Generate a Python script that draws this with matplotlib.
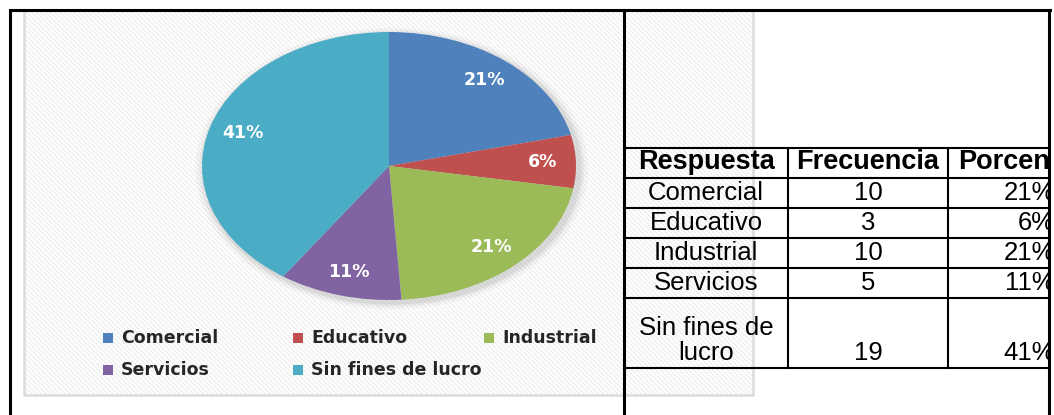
import numpy as np
import matplotlib.pyplot as plt
from matplotlib.patches import Rectangle, Ellipse

categorias = ['Comercial', 'Educativo', 'Industrial', 'Servicios', 'Sin fines de lucro']
frecuencia = [10, 3, 10, 5, 19]
porcentaje = ['21%', '6%', '21%', '11%', '41%']
colores = ['#4F81BD', '#C0504D', '#9BBB59', '#8064A2', '#4BACC6']
filas_tabla = ['Comercial', 'Educativo', 'Industrial', 'Servicios', 'Sin fines de\nlucro']
encabezados = ['Respuesta', 'Frecuencia', 'Porcentaje']

W, H = 1054, 415
plt.rcParams['hatch.linewidth'] = 0.8

fig = plt.figure(figsize=(W / 100, H / 100), dpi=100)
fig.patch.set_facecolor('white')

# base axes in pixel coordinates (y down)
ax = fig.add_axes([0, 0, 1, 1])
ax.set_xlim(0, W)
ax.set_ylim(H, 0)
ax.axis('off')

# hatched chart panel
ax.add_patch(Rectangle((24, 10), 729, 385, facecolor='white',
                       edgecolor='#ececec', hatch='\\' * 7, lw=0, zorder=0))
ax.add_patch(Rectangle((24, 10), 729, 385, facecolor='none',
                       edgecolor='#dcdcdc', lw=1.8, zorder=1))

# pie (elliptical)
cx, cy, rx, ry = 389, 166, 187, 134
axp = fig.add_axes([(cx - rx) / W, (H - cy - ry) / H, 2 * rx / W, 2 * ry / H])
for k, a in [(1.05, 0.08), (1.03, 0.12), (1.015, 0.18)]:
    axp.add_patch(Ellipse((0.015, -0.02), 2 * k, 2 * k, color='#9a9a9a', alpha=a,
                          lw=0, clip_on=False))
wedges, _ = axp.pie(frecuencia, colors=colores, startangle=90, counterclock=False,
                    radius=1, wedgeprops=dict(linewidth=0))
for w in wedges:
    w.set_clip_on(False)
axp.set_aspect('auto')
axp.set_xlim(-1, 1)
axp.set_ylim(-1, 1)
axp.axis('off')
for w, lab in zip(wedges, porcentaje):
    ang = np.deg2rad((w.theta1 + w.theta2) / 2)
    axp.text(0.82 * np.cos(ang), 0.82 * np.sin(ang), lab, color='white',
             fontsize=12.5, fontweight='bold', ha='center', va='center')

# legend
leg_x = [121, 311, 502, 121, 311]
leg_y = [338, 338, 338, 370, 370]
for nombre, col, lx, ly in zip(categorias, colores, leg_x, leg_y):
    ax.scatter([lx - 13], [ly], marker='s', s=48, color=col, lw=0, zorder=3)
    ax.text(lx, ly, nombre, fontsize=12.5, fontweight='bold', color='#262626',
            ha='left', va='center', zorder=3)

# frame lines
lw_frame = 2.2
ax.plot([10, 1050], [10, 10], color='black', lw=lw_frame, solid_capstyle='projecting')
ax.plot([10, 10], [10, H], color='black', lw=lw_frame)
ax.plot([1049, 1049], [10, H], color='black', lw=lw_frame)
ax.plot([624, 624], [10, H], color='black', lw=lw_frame)

# table
col_x = [624, 788, 948, 1049]
alturas = [30, 30, 30, 30, 30, 70]
y0 = 148
bordes = [y0] + list(y0 + np.cumsum(alturas))
lw_t = 1.5
for yb in bordes:
    ax.plot([624, 1049], [yb, yb], color='black', lw=lw_t)
for xc in col_x[1:3]:
    ax.plot([xc, xc], [bordes[0], bordes[-1]], color='black', lw=lw_t)

axt = fig.add_axes([624 / W, 0, (1048 - 624) / W, 1])
axt.set_xlim(624, 1048)
axt.set_ylim(H, 0)
axt.axis('off')
fam = 'Liberation Sans'
fs = 18.5
for j, enc in enumerate(encabezados):
    xpos = [(col_x[0] + col_x[1]) / 2, (col_x[1] + col_x[2]) / 2, 958][j]
    ha = ['center', 'center', 'left'][j]
    axt.text(xpos, bordes[1] - 3, enc, family=fam, fontsize=19.5, fontweight='bold',
             ha=ha, va='bottom', clip_on=True)
for i, (r, f, p) in enumerate(zip(filas_tabla, frecuencia, porcentaje)):
    yb = bordes[i + 2] - 3
    axt.text((col_x[0] + col_x[1]) / 2, yb, r, family=fam, fontsize=fs,
             ha='center', va='bottom', multialignment='center', linespacing=1.05,
             clip_on=True)
    axt.text((col_x[1] + col_x[2]) / 2, yb, str(f), family=fam, fontsize=fs,
             ha='center', va='bottom', clip_on=True)
    axt.text(1055, yb, p, family=fam, fontsize=fs, ha='right', va='bottom',
             clip_on=True)

fig.savefig('out.png', dpi=100, facecolor='white')
